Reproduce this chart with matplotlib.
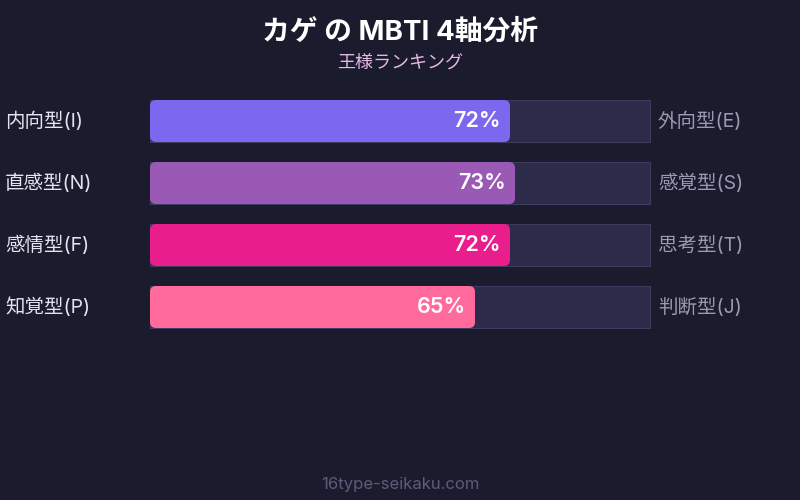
import matplotlib
matplotlib.use("Agg")
import matplotlib.pyplot as plt
from matplotlib.patches import FancyBboxPatch, Rectangle

plt.rcParams['font.family'] = ['Inter', 'Noto Sans CJK JP', 'DejaVu Sans']

left_labels = ['内向型(I)', '直感型(N)', '感情型(F)', '知覚型(P)']
right_labels = ['外向型(E)', '感覚型(S)', '思考型(T)', '判断型(J)']
percents = [72, 73, 72, 65]
colors = ['#7b68ee', '#9b59b6', '#e91e8c', '#ff6b9d']

BG = '#1b1b2e'
TRACK = '#2d2b4a'

fig = plt.figure(figsize=(8, 5), dpi=100, facecolor=BG)
ax = fig.add_axes([0, 0, 1, 1])
ax.set_xlim(0, 800)
ax.set_ylim(500, 0)
ax.axis('off')
ax.set_facecolor(BG)

bar_x = 150
bar_w = 500
bar_h = 42
top = 100
step = 62

for i, (ll, rl, p, c) in enumerate(zip(left_labels, right_labels, percents, colors)):
    y = top + i * step
    ax.add_patch(Rectangle((bar_x, y), bar_w, bar_h, facecolor=TRACK,
                           edgecolor='#3e3c5e', linewidth=0.8))
    w = bar_w * p / 100
    ax.add_patch(FancyBboxPatch((bar_x + 6, y + 6), w - 12, bar_h - 12,
                                boxstyle='round,pad=6', facecolor=c,
                                edgecolor='none'))
    ax.text(bar_x + w - 9, y + bar_h / 2, f'{p}%', color='white',
            fontsize=15.5, fontweight='semibold', ha='right', va='center')
    ax.text(5, y + bar_h / 2, ll, color='#e4e4f0', fontsize=14,
            ha='left', va='center')
    ax.text(658, y + bar_h / 2, rl, color='#9a9ab2', fontsize=14,
            ha='left', va='center')

ax.text(400, 33, 'カゲ の MBTI 4軸分析', color='white', fontsize=20,
        fontweight='bold', ha='center', va='center')
ax.text(400, 63, '王様ランキング', color='#e6b8e6', fontsize=13,
        ha='center', va='center')
ax.text(400, 484, '16type-seikaku.com', color='#5c5c78', fontsize=12,
        ha='center', va='center')

fig.savefig('out.png', dpi=100, facecolor=BG)
